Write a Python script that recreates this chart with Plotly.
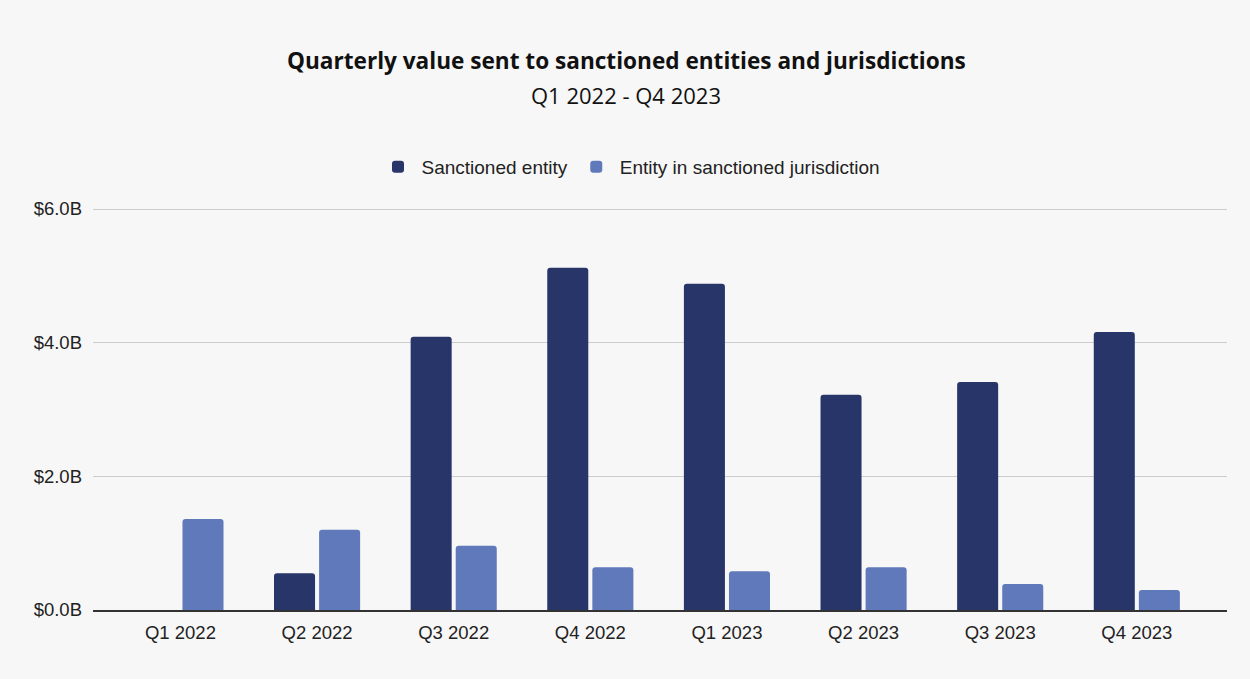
import plotly.graph_objects as go

quarters = ["Q1 2022", "Q2 2022", "Q3 2022", "Q4 2022", "Q1 2023", "Q2 2023", "Q3 2023", "Q4 2023"]
sanctioned_entity = [0.0, 0.55, 4.09, 5.12, 4.88, 3.22, 3.41, 4.16]
sanctioned_jurisdiction = [1.36, 1.20, 0.96, 0.64, 0.58, 0.64, 0.39, 0.30]
y_ticks = [0, 2, 4, 6]
y_tick_labels = ["$0.0B", "$2.0B", "$4.0B", "$6.0B"]

W, H = 1250, 679
ML, MR, MT, MB = 93, 23, 207, 69

fig = go.Figure()
fig.add_trace(go.Bar(x=quarters, y=sanctioned_entity, name="Sanctioned entity",
                     marker=dict(color="#283569", cornerradius=3, line=dict(width=0))))
fig.add_trace(go.Bar(x=quarters, y=sanctioned_jurisdiction, name="Entity in sanctioned jurisdiction",
                     marker=dict(color="#6079bb", cornerradius=3, line=dict(width=0))))

plot_h = H - MT - MB
plot_w = W - ML - MR

def py(pix):
    return (H - MB - pix) / plot_h

cx = (630 - ML) / plot_w

fig.update_layout(
    width=W, height=H,
    paper_bgcolor="#f7f7f7", plot_bgcolor="#f7f7f7",
    margin=dict(l=ML, r=MR, t=MT, b=MB),
    barmode="group", bargap=0.34, bargroupgap=0.09,
    font=dict(family="Liberation Sans, Arial, sans-serif", size=18, color="#222222"),
    showlegend=True,
    legend=dict(orientation="h", x=cx, xanchor="center", itemwidth=37,
                y=py(167), yanchor="middle", font=dict(size=19, color="#222222"),
                bgcolor="rgba(0,0,0,0)"),
    xaxis=dict(range=[-0.64, 7.66], showgrid=False, showline=True, linecolor="#333333",
               linewidth=1.5, ticks="", ticklabelstandoff=5, tickfont=dict(size=18.5, color="#222222")),
    yaxis=dict(range=[0, 6.03], tickvals=y_ticks, ticktext=y_tick_labels, showgrid=True,
               gridcolor="#cccccc", gridwidth=1, zeroline=False, ticks="",
               ticklabelstandoff=10, tickfont=dict(size=18.5, color="#222222")),
    annotations=[
        dict(text="<b>Quarterly value sent to sanctioned entities and jurisdictions</b>",
             x=(626 - ML) / plot_w, xref="paper", xanchor="center", y=py(61), yref="paper",
             yanchor="middle", showarrow=False,
             font=dict(family="Open Sans, sans-serif", size=22.6, color="#111111")),
        dict(text="Q1 2022 - Q4 2023", x=(626 - ML) / plot_w, xref="paper", xanchor="center",
             y=py(95), yref="paper", yanchor="middle", showarrow=False,
             font=dict(family="Open Sans, sans-serif", size=22, color="#111111")),
    ],
)

fig.write_html("out.html", post_script="document.body.style.margin='0';",
               config={"displayModeBar": False})
